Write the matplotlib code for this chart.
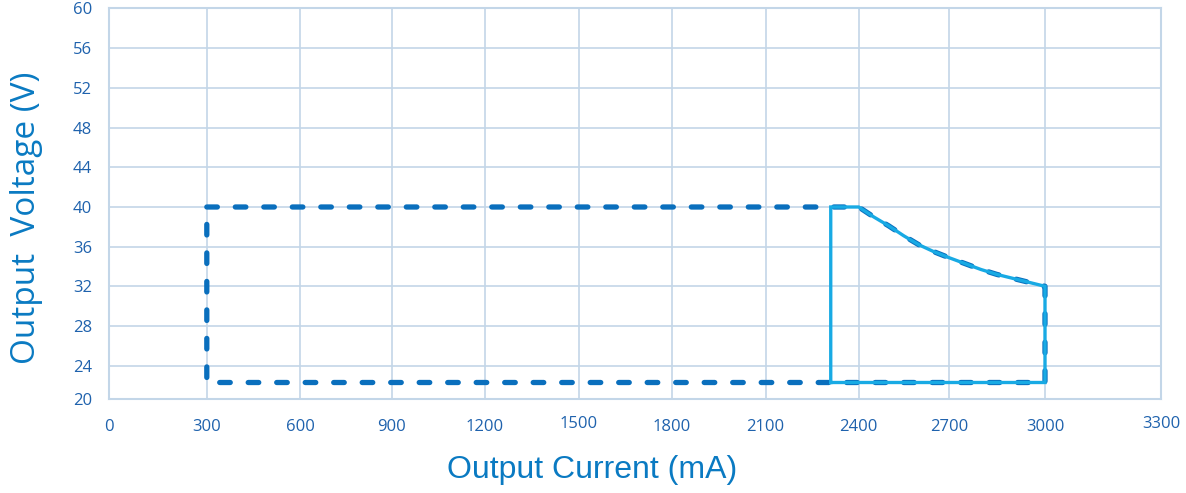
import numpy as np
import matplotlib
matplotlib.use("Agg")
import matplotlib.pyplot as plt
from matplotlib.transforms import ScaledTranslation

# ---- data ----
x_ticks = [0, 300, 600, 900, 1200, 1500, 1800, 2100, 2400, 2700, 3000, 3300]
y_ticks = [20, 24, 28, 32, 36, 40, 44, 48, 52, 56, 60]

# power-limit curve
curve_current = [2400, 2450, 2500, 2550, 2600, 2650, 2700, 2750, 2800, 2850, 2900, 2950, 3000]
curve_voltage = [40.0, 39.0, 38.1, 37.1, 36.2, 35.5, 34.9, 34.3, 33.7, 33.2, 32.8, 32.4, 32.0]

# full operating range (dashed outline)
range_current = [300] + curve_current + [3000, 300, 300]
range_voltage = [40] + curve_voltage + [22, 22, 40]

# constant power region (solid outline)
cp_current = [2310, 2310] + curve_current + [3000, 2310]
cp_voltage = [22, 40] + curve_voltage + [22, 22]

# axis spacing as drawn in the reference (uneven ends)
x_pos = [0.0, 97.8, 191.0, 282.7, 376.0, 469.6, 562.8, 656.5, 749.7, 839.8, 936.0, 1052.0]
y_pos = [0.0, 33.6, 73.3, 113.0, 152.6, 192.3, 232.0, 271.6, 311.3, 351.0, 391.0]

fwd_x = lambda v: np.interp(v, x_ticks, x_pos)
inv_x = lambda v: np.interp(v, x_pos, x_ticks)
fwd_y = lambda v: np.interp(v, y_ticks, y_pos)
inv_y = lambda v: np.interp(v, y_pos, y_ticks)

fig = plt.figure(figsize=(11.86, 4.93), dpi=100)
ax = fig.add_axes([109/1186, 1 - 399.3/493, 1052/1186, 391/493])
ax.set_xscale('function', functions=(fwd_x, inv_x))
ax.set_yscale('function', functions=(fwd_y, inv_y))
ax.set_xlim(0, 3300)
ax.set_ylim(20, 60)

grid_c = '#c3d6e8'
ax.set_xticks(x_ticks)
ax.set_yticks(y_ticks)
ax.grid(True, color=grid_c, linewidth=1.2)
ax.set_axisbelow(True)
for s in ax.spines.values():
    s.set_color(grid_c)
    s.set_linewidth(1.5)
ax.tick_params(length=0, colors='#1f62ad', labelsize=12)
ax.tick_params(axis='y', pad=12)
ax.tick_params(axis='x', pad=14)
for lab in ax.get_xticklabels() + ax.get_yticklabels():
    lab.set_fontfamily('Open Sans')
# two labels sit slightly higher in the reference
for lab in ax.get_xticklabels():
    if lab.get_text() in ('1500', '3300'):
        lab.set_transform(lab.get_transform() + ScaledTranslation(0, 2.5/100, fig.dpi_scale_trans))

ax.plot(range_current, range_voltage, color='#0a6fbd', linewidth=3.8,
        linestyle=(0, (2.0, 3.4)), dash_capstyle='round', solid_capstyle='round',
        zorder=3)
ax.plot(cp_current, cp_voltage, color='#18aae4', linewidth=2.4, zorder=4,
        solid_joinstyle='miter')

ax.set_xlabel('Output Current (mA)', fontsize=23, color='#0a7ac2',
              fontfamily='Liberation Sans')
ax.set_ylabel('Output  Voltage (V)', fontsize=24, color='#0a7ac2',
              fontfamily='Open Sans')
ax.xaxis.set_label_coords(0.459, -0.182)
ax.yaxis.set_label_coords(-0.078, 0.463)
ax.xaxis.label.set_va('center')
ax.yaxis.label.set_va('center')

fig.savefig('out.png', dpi=100)
